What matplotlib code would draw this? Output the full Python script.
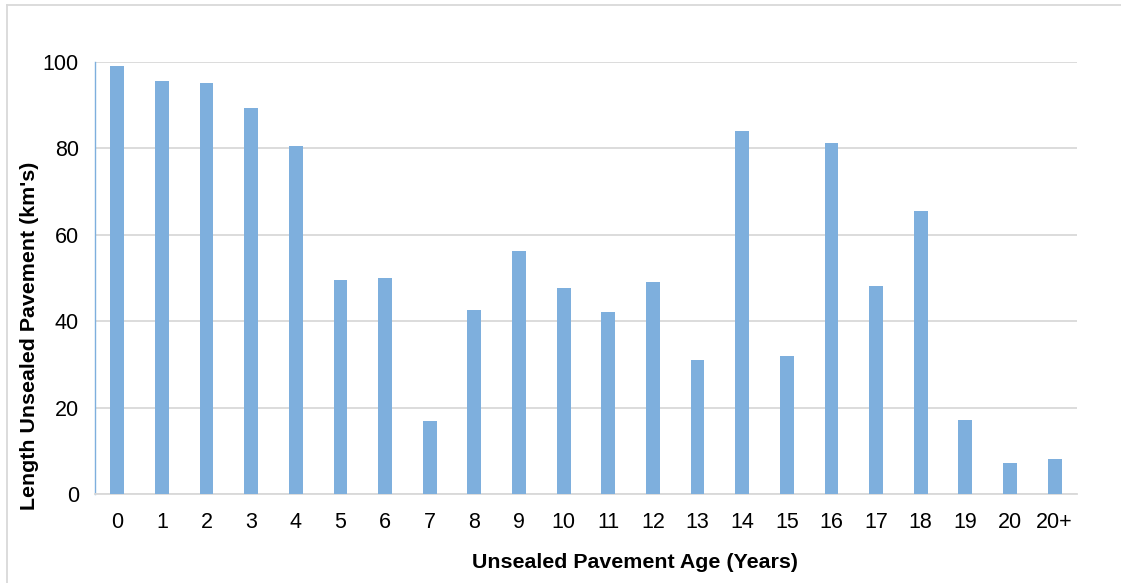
import matplotlib
matplotlib.use("Agg")
import matplotlib.pyplot as plt
from matplotlib.lines import Line2D

plt.rcParams['font.family'] = ['Liberation Sans', 'DejaVu Sans']

age_labels = ["0", "1", "2", "3", "4", "5", "6", "7", "8", "9", "10",
              "11", "12", "13", "14", "15", "16", "17", "18", "19", "20", "20+"]
length_km = [99.1, 95.6, 95.1, 89.4, 80.6, 49.5, 50.0, 16.9, 42.6, 56.3, 47.7,
             42.1, 49.1, 31.0, 84.0, 31.9, 81.25, 48.1, 65.5, 17.1, 7.2, 8.1]
y_ticks = [0, 20, 40, 60, 80, 100]

bar_color = "#7EAFDD"
grid_color = "#D9D9D9"

W, H = 1121, 583
fig = plt.figure(figsize=(W / 100, H / 100), dpi=100)
ax = fig.add_axes([0.0847, 0.1527, 0.8760, 0.7410])

x = list(range(len(age_labels)))
ax.bar(x, length_km, width=0.31, color=bar_color, zorder=3)

ax.set_xlim(-0.5, len(age_labels) - 0.5)
ax.set_ylim(0, 100)
ax.set_yticks(y_ticks)
ax.set_xticks(x)
ax.set_xticklabels(age_labels)
ax.tick_params(axis='both', length=0, labelsize=15.5, colors="#000000")
ax.tick_params(axis='x', pad=13)
ax.tick_params(axis='y', pad=11.5)

ax.yaxis.grid(True, color=grid_color, linewidth=1.3, zorder=0)
for side in ("top", "right"):
    ax.spines[side].set_visible(False)
ax.spines["left"].set_color("#7EAFDD")
ax.spines["left"].set_linewidth(1.0)
ax.spines["bottom"].set_color(grid_color)
ax.spines["bottom"].set_linewidth(1.3)

fig.text(634.5 / W, 1 - 562 / H, "Unsealed Pavement Age (Years)",
         fontsize=15.4, fontweight="bold", ha="center", va="center")
fig.text(30 / W, 1 - 336 / H, "Length Unsealed Pavement (km's)",
         fontsize=15.4, fontweight="bold", ha="center", va="center", rotation=90)

# light frame along the top and left of the chart area
fig.add_artist(Line2D([7 / W, 1.0], [1 - 5 / H, 1 - 5 / H],
                      transform=fig.transFigure, color=grid_color, linewidth=1.3))
fig.add_artist(Line2D([7 / W, 7 / W], [0.0, 1 - 5 / H],
                      transform=fig.transFigure, color=grid_color, linewidth=1.3))

fig.savefig("out.png", dpi=100)
